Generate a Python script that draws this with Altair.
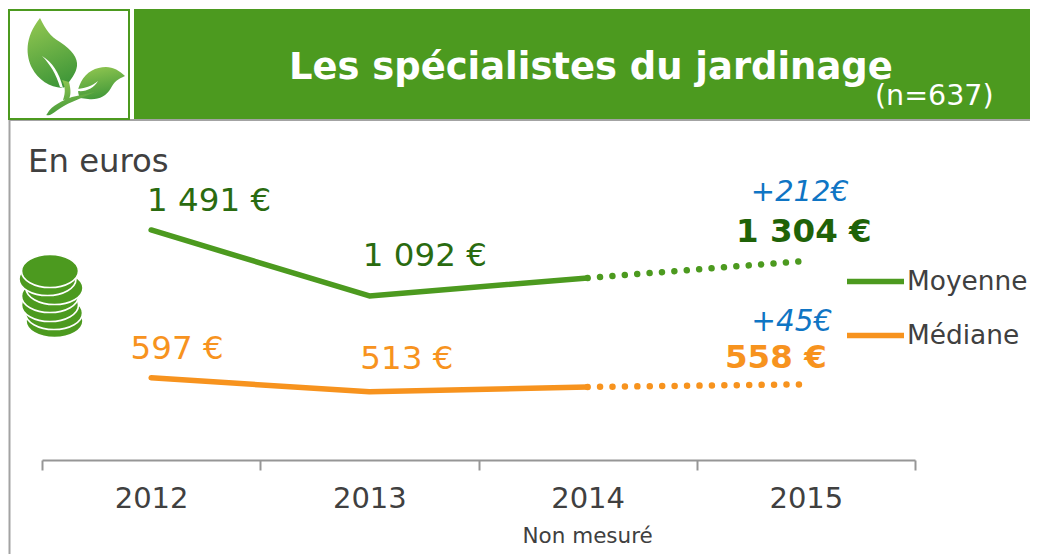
import altair as alt
import pandas as pd

# ---- data ----
YEARS = ["2012", "2013", "2014", "2015"]
SERIES = ["Moyenne", "Médiane"]
MEASURED_YEARS = ["2012", "2013", "2014"]
MOYENNE = [1491, 1092, 1201]
MEDIANE = [597, 513, 542]
PROJ_YEARS = ["2014", "2015"]
MOYENNE_PROJ = [1201, 1304]
MEDIANE_PROJ = [542, 558]
TITLE = "Les spécialistes du jardinage"
SAMPLE = "(n=637)"
UNIT = "En euros"
NOTE = "Non mesuré"

GREEN = "#4C9A1F"
DARK_GREEN = "#1F6208"
ORANGE = "#F7931E"
BLUE = "#0F75C4"
INK = "#404040"
GREY = "#A3A3A3"
AXIS_GREY = "#969696"
FONT = "DejaVu Sans"

W, H = 873, 452
OX, OY = 42, 8  # page pixel position of the plot origin

x_scale = alt.Scale(domain=YEARS, type="band", paddingInner=0, paddingOuter=0)
y_scale = alt.Scale(domain=[100.4, 2833], zero=False, nice=False)
X = alt.X("year:O", scale=x_scale, title=None,
          axis=alt.Axis(tickBand="extent", labelAngle=0, grid=False, tickSize=10, tickWidth=2,
                        tickColor=AXIS_GREY, domainColor=AXIS_GREY, domainWidth=2,
                        labelFont=FONT, labelFontSize=29, labelColor=INK, labelPadding=14))
Y = alt.Y("value:Q", scale=y_scale, axis=None)


def one():
    return alt.Chart(pd.DataFrame({"a": [0]}))


def px(v):
    return alt.value(v - OX)


def py(v):
    return alt.value(v - OY)


def box(x0, x1, y0, y1, **mark):
    return one().mark_rect(**mark).encode(x=px(x0), x2=px(x1), y=py(y0), y2=py(y1))


def page_text(s, x, y, size, color=INK, align="left", **mark):
    return one().mark_text(text=s, font=FONT, fontSize=size, color=color, align=align,
                           baseline="alphabetic", **mark).encode(x=px(x), y=py(y))


def value_label(year, value, s, dx, dy, color, size=32.5, **mark):
    return (alt.Chart(pd.DataFrame({"year": [year], "value": [value], "label": [s]}))
            .mark_text(font=FONT, fontSize=size, color=color, align="center", baseline="alphabetic",
                       dx=dx, dy=dy, **mark)
            .encode(x=X, y=Y, text="label:N"))


def shape(points, cx=76, cy=65, span=110):
    """Turn page-pixel path commands into the unit square a custom symbol uses."""
    out = []
    for item in points:
        if isinstance(item, str):
            out.append(item)
        else:
            out.append(f"{(item[0] - cx) / span:.4f},{(item[1] - cy) / span:.4f}")
    return " ".join(out)


leaf_gradient = alt.Gradient(gradient="linear", x1=0.3, y1=0, x2=0.6, y2=1,
                             stops=[alt.GradientStop(color="#8FC550", offset=0),
                                    alt.GradientStop(color="#3E9638", offset=1)])

big_leaf = shape(["M", (40, 18), "C", (46, 30), (50, 36), (60, 42), "C", (72, 50), (78, 58), (77, 66),
                  "C", (76, 73), (72, 78), (69, 82), "L", (68, 86), "L", (62, 88),
                  "C", (50, 87), (38, 80), (32, 68), "C", (26, 56), (24, 38), (40, 18), "Z"])
small_leaf = shape(["M", (125, 76), "C", (118, 79), (114, 82), (111, 88), "C", (106, 97), (98, 100), (88, 99),
                    "L", (80, 98), "C", (77, 92), (78, 88), (81, 82), "C", (86, 72), (96, 67), (106, 67),
                    "C", (113, 67), (120, 71), (125, 76), "Z"])
stem = shape(["M", (47, 114), "C", (52, 105), (62, 101), (72, 97), "L", (95, 92), "L", (72, 102),
              "C", (62, 106), (56, 112), (50, 115), "Q", (45, 116), (47, 114), "Z",
              "M", (63, 100), "C", (66, 92), (65, 86), (62, 80), "L", (69, 82), "C", (71, 90), (71, 95), (69, 99), "Z"])
veins = shape(["M", (42, 56), "C", (52, 62), (59, 72), (63, 88), "L", (60, 87), "C", (56, 74), (50, 64), (42, 56), "Z",
               "M", (78, 89), "C", (86, 88), (92, 86), (98, 81), "C", (94, 88), (86, 92), (78, 91), "Z"])


def icon(path, fill, size=48400, x=76, y=65):
    return one().mark_point(shape=path, size=size, fill=fill, filled=True, opacity=1, strokeWidth=0).encode(
        x=px(x), y=py(y))


COINS = [(54.5, 321), (54, 313), (50, 305), (50, 296), (54.5, 288), (47.5, 279), (50, 271)]
coin_path = "M-0.5,0 A0.5,0.29 0 1,1 0.5,0 A0.5,0.29 0 1,1 -0.5,0 Z"
coins = [one().mark_point(shape=coin_path, size=12996, fill=GREEN, filled=True, opacity=1,
                          stroke="white", strokeWidth=1.6).encode(x=px(cx), y=py(cy)) for cx, cy in COINS]

solid = pd.DataFrame({
    "year": MEASURED_YEARS * 2,
    "value": MOYENNE + MEDIANE,
    "series": [SERIES[0]] * 3 + [SERIES[1]] * 3,
})
dotted = pd.DataFrame({
    "year": PROJ_YEARS * 2,
    "value": MOYENNE_PROJ + MEDIANE_PROJ,
    "series": [SERIES[0]] * 2 + [SERIES[1]] * 2,
})
color = alt.Color("series:N", scale=alt.Scale(domain=SERIES, range=[GREEN, ORANGE]),
                  legend=alt.Legend(orient="none", legendX=802, legendY=242, title=None, symbolType="stroke",
                                    symbolSize=3249, symbolStrokeWidth=5.5, labelFont=FONT, labelFontSize=26.4,
                                    labelColor=INK, rowPadding=9, labelOffset=0, symbolOpacity=1))

solid_lines = alt.Chart(solid).mark_line(strokeWidth=5.5, strokeCap="round", strokeJoin="round").encode(
    x=X, y=Y, color=color)
dotted_lines = alt.Chart(dotted).mark_line(strokeWidth=6.5, strokeCap="round", strokeDash=[0.01, 12.42]).encode(
    x=X, y=Y, color=alt.Color("series:N", legend=None))

layers = [
    box(134, 1030, 9, 119, color=GREEN),
    box(9, 1030, 119, 121, color=GREY),
    box(8.5, 10.5, 120, 554, color=GREY),
    box(9, 129, 10, 119, fill="white", stroke=GREEN, strokeWidth=2),
    icon(big_leaf, leaf_gradient),
    icon(small_leaf, leaf_gradient),
    icon(stem, leaf_gradient),
    icon(veins, "white"),
    page_text(TITLE, 289, 79, 36.9, color="white", fontWeight="bold"),
    page_text(SAMPLE, 875, 105, 28.5, color="white"),
    page_text(UNIT, 28, 172, 32.3),
    *coins,
    solid_lines,
    dotted_lines,
    value_label("2012", MOYENNE[0], "1 491 €", 58, -19, "#2A6B10"),
    value_label("2013", MOYENNE[1], "1 092 €", 55.5, -30, "#2A6B10"),
    value_label("2015", MOYENNE_PROJ[1], "1 304 €", -2, -19, DARK_GREEN, fontWeight="bold"),
    value_label("2015", MOYENNE_PROJ[1], "+212€", -6, -60, BLUE, size=29, fontStyle="italic"),
    value_label("2012", MEDIANE[0], "597 €", 26, -19, ORANGE),
    value_label("2013", MEDIANE[1], "513 €", 37.5, -23, ORANGE),
    value_label("2015", MEDIANE_PROJ[1], "558 €", -30, -16, ORANGE, fontWeight="bold"),
    value_label("2015", MEDIANE_PROJ[1], "+45€", -14, -53, BLUE, size=29.5, fontStyle="italic"),
    (alt.Chart(pd.DataFrame({"year": ["2014"], "label": [NOTE]}))
     .mark_text(font=FONT, fontSize=21.5, color=INK, align="center", baseline="alphabetic")
     .encode(x=X, y=py(543), text="label:N")),
]

chart = (alt.layer(*layers)
         .resolve_scale(color="shared")
         .properties(width=W, height=H, background="white", autosize=alt.AutoSizeParams(type="none"),
                     padding={"left": OX - 8, "top": 0, "right": 1030 - OX - W, "bottom": 554 - OY - H})
         .configure_view(strokeWidth=0)
         .configure_axis(grid=False))

chart.save("out.html", embed_options={"renderer": "svg", "actions": False})
